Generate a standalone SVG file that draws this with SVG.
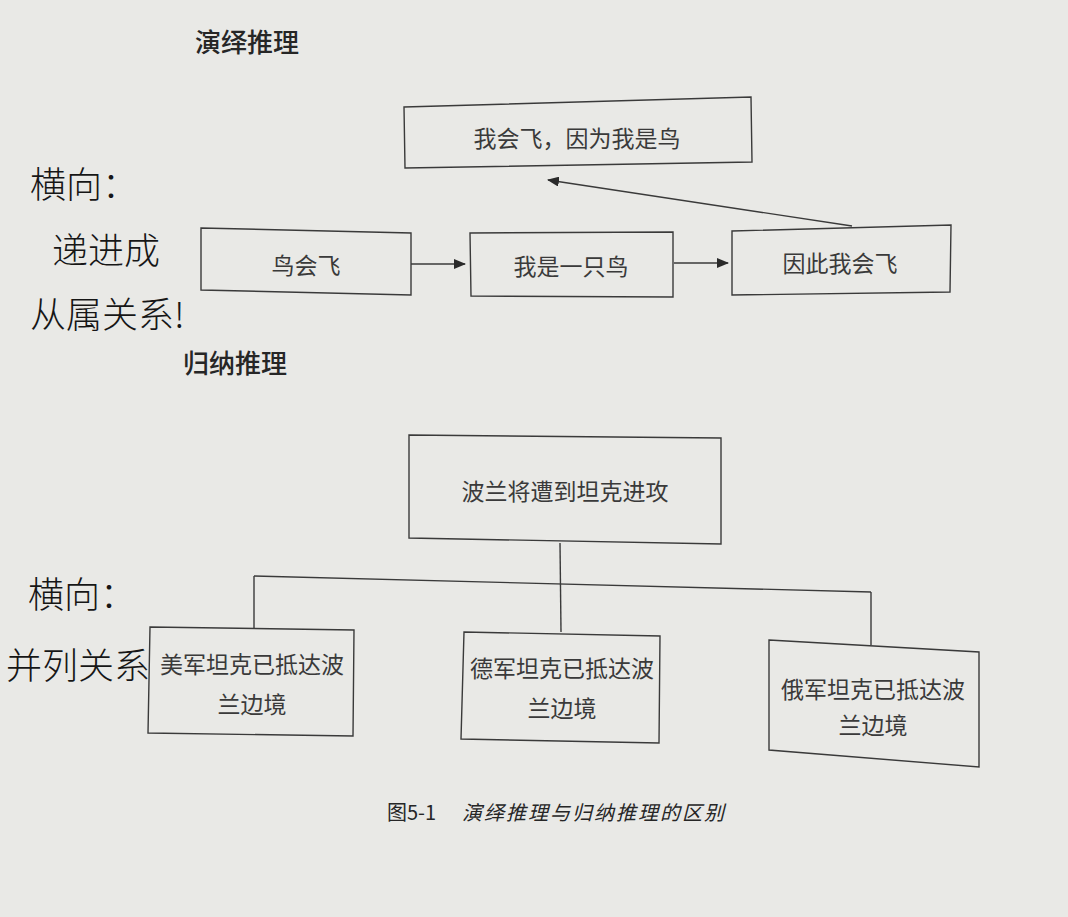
<svg xmlns="http://www.w3.org/2000/svg" width="1068" height="917" viewBox="0 0 1068 917">
  <style>
    .bg { fill: #e9e9e6; }
    .box { fill: none; stroke: #3a3a3a; stroke-width: 1.4; }
    .line { fill: none; stroke: #3a3a3a; stroke-width: 1.4; }
    .t { font-family: "Noto Sans CJK SC", "Noto Sans", sans-serif; fill: #3a3a3a; font-size: 23px; text-anchor: middle; dominant-baseline: central; }
    .h { font-family: "Noto Sans CJK SC", "Noto Sans", sans-serif; fill: #262626; font-size: 26px; font-weight: 500; dominant-baseline: central; }
    .cap { font-family: "Noto Sans CJK SC", "Noto Sans", sans-serif; fill: #262626; font-size: 20px; dominant-baseline: central; }
    .hw { font-family: "Noto Sans CJK SC", "Noto Sans", sans-serif; fill: #161616; font-size: 36px; font-weight: 300; dominant-baseline: central; }
  </style>
  <defs>
    <marker id="arr" viewBox="0 0 12 10" refX="11" refY="5" markerWidth="12" markerHeight="10" markerUnits="userSpaceOnUse" orient="auto">
      <path d="M0,0 L12,5 L0,10 Z" fill="#2a2a2a"/>
    </marker>
  </defs>
  <rect class="bg" x="0" y="0" width="1068" height="917"/>

  <text class="h" x="195" y="40">演绎推理</text>
  <text class="h" x="183" y="361">归纳推理</text>

  <g id="connectors">
    <line class="line" x1="411" y1="264" x2="465" y2="264" marker-end="url(#arr)"/>
    <line class="line" x1="674" y1="263" x2="728" y2="263" marker-end="url(#arr)"/>
    <line class="line" x1="852" y1="226" x2="548" y2="180" marker-end="url(#arr)"/>
    <line class="line" x1="560" y1="543" x2="561" y2="632"/>
    <line class="line" x1="254" y1="576" x2="871" y2="592"/>
    <line class="line" x1="254" y1="576" x2="254" y2="628"/>
    <line class="line" x1="871" y1="592" x2="871" y2="645"/>
  </g>

  <g id="node-top">
    <path class="box" d="M404,107 L751,97 L752,162 L405,168 Z"/>
    <text class="t" x="577" y="137" font-size="21.5">我会飞，因为我是鸟</text>
  </g>
  <g id="node-bird">
    <path class="box" d="M201,228 L411,233 L411,295 L201,290 Z"/>
    <text class="t" x="306" y="264">鸟会飞</text>
  </g>
  <g id="node-me">
    <path class="box" d="M470,233 L673,232 L673,297 L471,296 Z"/>
    <text class="t" x="571" y="265">我是一只鸟</text>
  </g>
  <g id="node-therefore">
    <path class="box" d="M732,231 L951,225 L950,292 L732,295 Z"/>
    <text class="t" x="840" y="262">因此我会飞</text>
  </g>

  <g id="node-poland">
    <path class="box" d="M409,435 L721,438 L721,544 L409,538 Z"/>
    <text class="t" x="565" y="490">波兰将遭到坦克进攻</text>
  </g>
  <g id="node-us">
    <path class="box" d="M150,627 L354,630 L353,736 L148,733 Z"/>
    <text class="t" x="252" y="663">美军坦克已抵达波</text>
    <text class="t" x="252" y="703">兰边境</text>
  </g>
  <g id="node-de">
    <path class="box" d="M464,632 L660,636 L659,743 L461,739 Z"/>
    <text class="t" x="562" y="667">德军坦克已抵达波</text>
    <text class="t" x="562" y="707">兰边境</text>
  </g>
  <g id="node-ru">
    <path class="box" d="M769,640 L979,652 L979,767 L769,750 Z"/>
    <text class="t" x="873" y="688">俄军坦克已抵达波</text>
    <text class="t" x="873" y="724">兰边境</text>
  </g>

  <text class="cap" x="387" y="811">图5-1</text>
  <text class="cap" x="462" y="811" font-style="italic" letter-spacing="2">演绎推理与归纳推理的区别</text>

  <g id="handwriting">
    <text class="hw" x="30" y="182">横向：</text>
    <text class="hw" x="52" y="248">递进成</text>
    <text class="hw" x="30" y="312">从属关系!</text>
    <text class="hw" x="28" y="592">横向：</text>
    <text class="hw" x="6" y="663">并列关系</text>
  </g>
</svg>
